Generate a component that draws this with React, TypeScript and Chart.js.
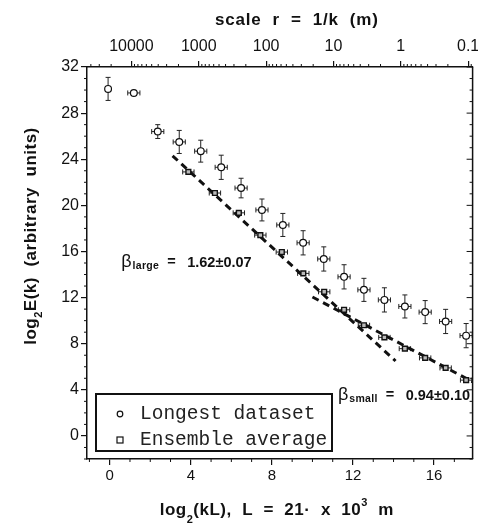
import React, { useEffect, useRef } from "react";
import { Chart, registerables } from "chart.js";

Chart.register(...registerables);

// ---- data ----
const L_METERS = 21000;

const longestX = [-0.08, 1.19, 2.37, 3.43, 4.49, 5.5, 6.48, 7.51, 8.54, 9.54, 10.56, 11.56, 12.54, 13.55, 14.56, 15.56, 16.57, 17.58];
const longestY = [30.1, 29.75, 26.4, 25.5, 24.7, 23.3, 21.5, 19.6, 18.3, 16.75, 15.35, 13.8, 12.67, 11.8, 11.23, 10.74, 9.93, 8.7];
const longestYErr = [1.0, 0.1, 0.6, 1.0, 0.95, 1.05, 0.85, 0.95, 1.0, 1.05, 1.05, 1.05, 1.0, 1.05, 1.0, 1.0, 1.05, 1.05];
const longestXErr = [0.12, 0.3, 0.3, 0.3, 0.3, 0.3, 0.3, 0.3, 0.3, 0.3, 0.3, 0.3, 0.3, 0.3, 0.3, 0.3, 0.3, 0.3];

const ensembleX = [3.88, 5.19, 6.37, 7.43, 8.49, 9.55, 10.58, 11.56, 12.54, 13.55, 14.56, 15.56, 16.57, 17.58];
const ensembleY = [22.9, 21.07, 19.35, 17.42, 15.95, 14.1, 12.5, 10.94, 9.6, 8.55, 7.57, 6.77, 5.9, 4.84];
const ensembleXErr = [0.28, 0.28, 0.28, 0.28, 0.28, 0.28, 0.28, 0.28, 0.28, 0.28, 0.28, 0.28, 0.28, 0.28];

const fitLargeX = [3.1, 14.1];
const fitLargeY = [24.3, 6.5];
const fitSmallX = [10.0, 18.0];
const fitSmallY = [12.05, 4.6];

const bottomTicks = [0, 4, 8, 12, 16];
const leftTicks = [0, 4, 8, 12, 16, 20, 24, 28, 32];
const topScales = [10000, 1000, 100, 10, 1, 0.1];
const topLabels = ["10000", "1000", "100", "10", "1", "0.1"];

const legendLabels = ["Longest dataset", "Ensemble average"];
const betaLarge = { name: "large", text: "1.62\u00b10.07", x: 0.57, y: 14.67 };
const betaSmall = { name: "small", text: "0.94\u00b10.10", x: 11.26, y: 3.08 };

const X_MIN = -1.12;
const X_MAX = 17.9;
const Y_MIN = -2;
const Y_MAX = 32;

const SANS = '"Liberation Sans", Arial, Helvetica, sans-serif';
const MONO = '"Liberation Mono", "Courier New", monospace';
const INK = "#111";

type Seg = { t: string; size: number; dy?: number; bold?: boolean };

function drawRich(ctx: CanvasRenderingContext2D, segs: Seg[], x: number, y: number, align: "left" | "center", spacing = 0) {
  ctx.textBaseline = "alphabetic";
  ctx.textAlign = "left";
  (ctx as any).letterSpacing = `${spacing}px`;
  let w = 0;
  const widths: number[] = [];
  for (const s of segs) {
    ctx.font = `${s.bold === false ? "" : "bold "}${s.size}px ${SANS}`;
    const mw = ctx.measureText(s.t).width;
    widths.push(mw);
    w += mw;
  }
  let cx = align === "center" ? x - w / 2 : x;
  segs.forEach((s, i) => {
    ctx.font = `${s.bold === false ? "" : "bold "}${s.size}px ${SANS}`;
    ctx.fillText(s.t, cx, y + (s.dy || 0));
    cx += widths[i];
  });
  (ctx as any).letterSpacing = "0px";
}

const decorPlugin = {
  id: "decor",
  beforeDatasetsDraw(chart: any) {
    const ctx: CanvasRenderingContext2D = chart.ctx;
    const xs = chart.scales.x;
    const ys = chart.scales.y;
    ctx.save();
    ctx.strokeStyle = "#222";
    ctx.lineWidth = 1;
    const hbar = (x: number, y: number, e: number) => {
      const px = ys.getPixelForValue(y);
      const x1 = xs.getPixelForValue(x - e);
      const x2 = xs.getPixelForValue(x + e);
      ctx.beginPath();
      ctx.moveTo(x1, px);
      ctx.lineTo(x2, px);
      ctx.moveTo(x1, px - 2.5);
      ctx.lineTo(x1, px + 2.5);
      ctx.moveTo(x2, px - 2.5);
      ctx.lineTo(x2, px + 2.5);
      ctx.stroke();
    };
    longestX.forEach((x, i) => {
      const px = xs.getPixelForValue(x);
      const y1 = ys.getPixelForValue(longestY[i] - longestYErr[i]);
      const y2 = ys.getPixelForValue(longestY[i] + longestYErr[i]);
      ctx.beginPath();
      ctx.moveTo(px, y1);
      ctx.lineTo(px, y2);
      ctx.moveTo(px - 2.5, y1);
      ctx.lineTo(px + 2.5, y1);
      ctx.moveTo(px - 2.5, y2);
      ctx.lineTo(px + 2.5, y2);
      ctx.stroke();
      hbar(x, longestY[i], longestXErr[i]);
    });
    ensembleX.forEach((x, i) => hbar(x, ensembleY[i], ensembleXErr[i]));
    ctx.restore();
  },
  afterDraw(chart: any) {
    const ctx: CanvasRenderingContext2D = chart.ctx;
    const xs = chart.scales.x;
    const ys = chart.scales.y;
    const { left, right, top, bottom } = chart.chartArea;
    ctx.save();
    ctx.strokeStyle = INK;
    ctx.fillStyle = INK;

    // right border
    ctx.lineWidth = 1.5;
    ctx.beginPath();
    ctx.moveTo(right, top);
    ctx.lineTo(right, bottom);
    ctx.stroke();

    // minor ticks
    ctx.lineWidth = 1;
    ctx.beginPath();
    for (let v = Math.ceil(Y_MIN); v <= Y_MAX; v++) {
      const py = ys.getPixelForValue(v);
      if (!leftTicks.includes(v)) {
        ctx.moveTo(left, py);
        ctx.lineTo(left - 3, py);
      }
      const len = v % 4 === 0 ? 6 : 3;
      ctx.moveTo(right, py);
      ctx.lineTo(right - len, py);
    }
    for (let v = Math.ceil(X_MIN); v <= X_MAX; v++) {
      if (bottomTicks.includes(v)) continue;
      const px = xs.getPixelForValue(v);
      ctx.moveTo(px, bottom);
      ctx.lineTo(px, bottom + 3);
    }
    for (const dec of [0.01, 0.1, 1, 10, 100, 1000, 10000]) {
      for (let m = 2; m <= 9; m++) {
        const v = Math.log2(L_METERS / (dec * m));
        if (v < X_MIN || v > X_MAX) continue;
        const px = xs.getPixelForValue(v);
        ctx.moveTo(px, top);
        ctx.lineTo(px, top - 3);
      }
    }
    ctx.stroke();

    // annotations
    const drawBeta = (a: { name: string; text: string; x: number; y: number }) => {
      const bx = xs.getPixelForValue(a.x);
      const by = ys.getPixelForValue(a.y);
      ctx.textBaseline = "alphabetic";
      ctx.textAlign = "left";
      ctx.font = `18px ${SANS}`;
      ctx.fillText("\u03b2", bx, by);
      const bw = ctx.measureText("\u03b2").width;
      ctx.font = `bold 10.5px ${SANS}`;
      (ctx as any).letterSpacing = "0.3px";
      ctx.fillText(a.name, bx + bw + 1, by + 2);
      const sw = ctx.measureText(a.name).width;
      (ctx as any).letterSpacing = "0px";
      ctx.font = `bold 14.5px ${SANS}`;
      const ex = bx + bw + 1 + sw + 8;
      ctx.fillText("=", ex, by - 1);
      ctx.fillText(a.text, ex + 20, by);
    };
    drawBeta(betaLarge);
    drawBeta(betaSmall);

    // legend
    const lx = left + 9;
    const ly = bottom - 65;
    const lw = 236;
    const lh = 57;
    ctx.fillStyle = "#fff";
    ctx.fillRect(lx, ly, lw, lh);
    ctx.lineWidth = 2;
    ctx.strokeStyle = INK;
    ctx.strokeRect(lx, ly, lw, lh);
    ctx.fillStyle = "#222";
    ctx.font = `19.5px ${MONO}`;
    ctx.textBaseline = "middle";
    ctx.fillText(legendLabels[0], lx + 44, ly + 20);
    ctx.fillText(legendLabels[1], lx + 44, ly + 46);
    ctx.lineWidth = 1.2;
    ctx.beginPath();
    ctx.arc(lx + 24, ly + 20, 2.8, 0, Math.PI * 2);
    ctx.stroke();
    ctx.strokeRect(lx + 21, ly + 43, 6, 6);

    // titles
    ctx.fillStyle = INK;
    drawRich(ctx, [{ t: "scale  r  =  1/k  (m)", size: 17 }], (left + right) / 2 + 17, 25, "center", 0.8);
    drawRich(
      ctx,
      [
        { t: "log", size: 17 },
        { t: "2", size: 11, dy: 8 },
        { t: "(kL),  L  =  21\u00b7  x  10", size: 17 },
        { t: "3", size: 11, dy: -9 },
        { t: "  m", size: 17 },
      ],
      (left + right) / 2 - 3,
      515,
      "center",
      0.5
    );
    ctx.save();
    ctx.translate(36, 236);
    ctx.rotate(-Math.PI / 2);
    drawRich(
      ctx,
      [
        { t: "log", size: 17 },
        { t: "2", size: 11, dy: 6 },
        { t: "E(k)  (arbitrary  units)", size: 17 },
      ],
      0,
      0,
      "center",
      0.5
    );
    ctx.restore();
    ctx.restore();
  },
};

export default function App() {
  const ref = useRef<HTMLCanvasElement | null>(null);
  useEffect(() => {
    if (!ref.current) return;
    const gridOpts = {
      display: true,
      drawOnChartArea: false,
      drawTicks: true,
      tickLength: 6,
      color: INK,
      lineWidth: 1.2,
    };
    const borderOpts = { display: true, color: INK, width: 1.5 };
    const tickFont = { family: SANS, size: 16 };
    const chart = new Chart(ref.current, {
      type: "scatter",
      data: {
        datasets: [
          {
            label: legendLabels[0],
            data: longestX.map((x, i) => ({ x, y: longestY[i] })),
            pointStyle: "circle",
            pointRadius: 3.4,
            borderWidth: 1.2,
            borderColor: "#111",
            backgroundColor: "#fff",
          },
          {
            label: legendLabels[1],
            data: ensembleX.map((x, i) => ({ x, y: ensembleY[i] })),
            pointStyle: "rect",
            pointRadius: 3.4,
            borderWidth: 1.4,
            borderColor: "#111",
            backgroundColor: "#bbb",
          },
          {
            label: "fit large",
            data: fitLargeX.map((x, i) => ({ x, y: fitLargeY[i] })),
            showLine: true,
            pointRadius: 0,
            borderColor: "#111",
            borderWidth: 3,
            borderDash: [7, 5],
          },
          {
            label: "fit small",
            data: fitSmallX.map((x, i) => ({ x, y: fitSmallY[i] })),
            showLine: true,
            pointRadius: 0,
            borderColor: "#111",
            borderWidth: 3,
            borderDash: [7, 5],
          },
        ],
      },
      options: {
        animation: false,
        responsive: false,
        layout: { padding: { left: 0, right: 2, top: 0, bottom: 0 } },
        plugins: { legend: { display: false }, tooltip: { enabled: false } },
        scales: {
          x: {
            type: "linear",
            position: "bottom",
            min: X_MIN,
            max: X_MAX,
            grid: gridOpts,
            border: borderOpts,
            ticks: { font: { family: SANS, size: 15 }, color: INK, padding: 2, maxRotation: 0 },
            afterBuildTicks: (s: any) => {
              s.ticks = bottomTicks.map((v) => ({ value: v }));
            },
            afterFit: (s: any) => {
              s.height = 67;
              s.paddingLeft = 0;
              s.paddingRight = 0;
            },
          },
          x2: {
            type: "linear",
            position: "top",
            min: X_MIN,
            max: X_MAX,
            grid: gridOpts,
            border: borderOpts,
            ticks: {
              font: tickFont,
              color: INK,
              padding: 5,
              maxRotation: 0,
              callback: (v: any) => {
                const idx = topScales.findIndex((r) => Math.abs(Math.log2(L_METERS / r) - v) < 1e-6);
                return idx >= 0 ? topLabels[idx] : "";
              },
            },
            afterBuildTicks: (s: any) => {
              s.ticks = topScales.map((r) => ({ value: Math.log2(L_METERS / r) }));
            },
            afterFit: (s: any) => {
              s.height = 67;
              s.paddingLeft = 0;
              s.paddingRight = 0;
            },
          },
          y: {
            type: "linear",
            position: "left",
            min: Y_MIN,
            max: Y_MAX,
            grid: gridOpts,
            border: borderOpts,
            ticks: { font: tickFont, color: INK, padding: 2 },
            afterBuildTicks: (s: any) => {
              s.ticks = leftTicks.map((v) => ({ value: v }));
            },
            afterFit: (s: any) => {
              s.width = 87;
              s.paddingTop = 0;
              s.paddingBottom = 0;
            },
          },
        },
      },
      plugins: [decorPlugin],
    } as any);
    return () => chart.destroy();
  }, []);
  return (
    <div style={{ position: "absolute", left: 0, top: 0, width: 478, height: 526 }}>
      <canvas ref={ref} width={478} height={526} style={{ display: "block" }} />
    </div>
  );
}
